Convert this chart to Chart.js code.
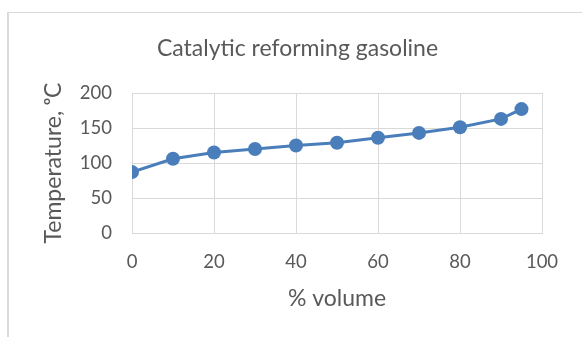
<!DOCTYPE html>
<html>
<head>
<meta charset="utf-8">
<script src="https://cdn.jsdelivr.net/npm/chart.js@4"></script>
<style>
  html, body { margin: 0; padding: 0; background: #fff; overflow: hidden; }
  #wrap { position: absolute; left: 0; top: 0; width: 595px; height: 337px; }
  #frame { position: absolute; left: 7px; top: 12px; width: 700px; height: 400px;
           border-left: 2px solid #d9d9d9; border-top: 1px solid #d9d9d9; }
</style>
</head>
<body>
<div id="frame"></div>
<div id="wrap"><canvas id="chart_canvas" width="595" height="337"></canvas></div>
<script>
let volume = [0, 10, 20, 30, 40, 50, 60, 70, 80, 90, 95];
let temperature = [87, 106, 115, 120, 125, 129, 136, 143, 151, 163, 177];

let points = volume.map(function(v, i) {
    return {x: v, y: temperature[i]};
});

let textColor = '#595959';
let gridColor = '#d9d9d9';
let blue = '#4a7ebb';

let ctx = document.getElementById('chart_canvas').getContext('2d');

let chart = new Chart(ctx, {
    type: 'scatter',
    data: {
        datasets: [{
            data: points,
            showLine: true,
            borderColor: blue,
            backgroundColor: blue,
            borderWidth: 3,
            pointRadius: 7,
            pointHoverRadius: 7,
            pointBorderWidth: 0
        }]
    },
    options: {
        responsive: false,
        animation: false,
        layout: {
            padding: 0
        },
        plugins: {
            legend: {display: false},
            tooltip: {enabled: false},
            title: {
                display: true,
                text: 'Catalytic reforming gasoline',
                color: textColor,
                font: {family: 'Lato', size: 23, weight: 'normal'},
                padding: {top: 34.6, bottom: 30.8}
            }
        },
        scales: {
            x: {
                type: 'linear',
                min: 0,
                max: 100,
                ticks: {stepSize: 20, color: textColor, padding: 18,
                        font: {family: 'Lato', size: 18.5}},
                grid: {color: gridColor, drawTicks: false},
                border: {color: gridColor},
                title: {
                    display: true,
                    text: '% volume',
                    color: textColor,
                    font: {family: 'Lato', size: 23},
                    padding: {top: 0, bottom: 24.5}
                },
                afterFit: function(scale) { scale.height = 104; }
            },
            y: {
                type: 'linear',
                min: 0,
                max: 200,
                ticks: {stepSize: 50, color: textColor, padding: 20,
                        font: {family: 'Lato', size: 18.5}},
                grid: {color: gridColor, drawTicks: false},
                border: {color: gridColor},
                title: {
                    display: true,
                    text: 'Temperature, ᵒC',
                    color: textColor,
                    font: {family: 'Lato', size: 23},
                    padding: {top: 39.7, bottom: 0}
                },
                afterFit: function(scale) { scale.width = 132; }
            },
            // empty right-hand box so the chart title centres like the original frame
            yRight: {
                position: 'right',
                display: true,
                grid: {display: false},
                border: {display: false},
                ticks: {display: false},
                afterFit: function(scale) { scale.width = 53; }
            }
        }
    }
});
</script>
</body>
</html>
